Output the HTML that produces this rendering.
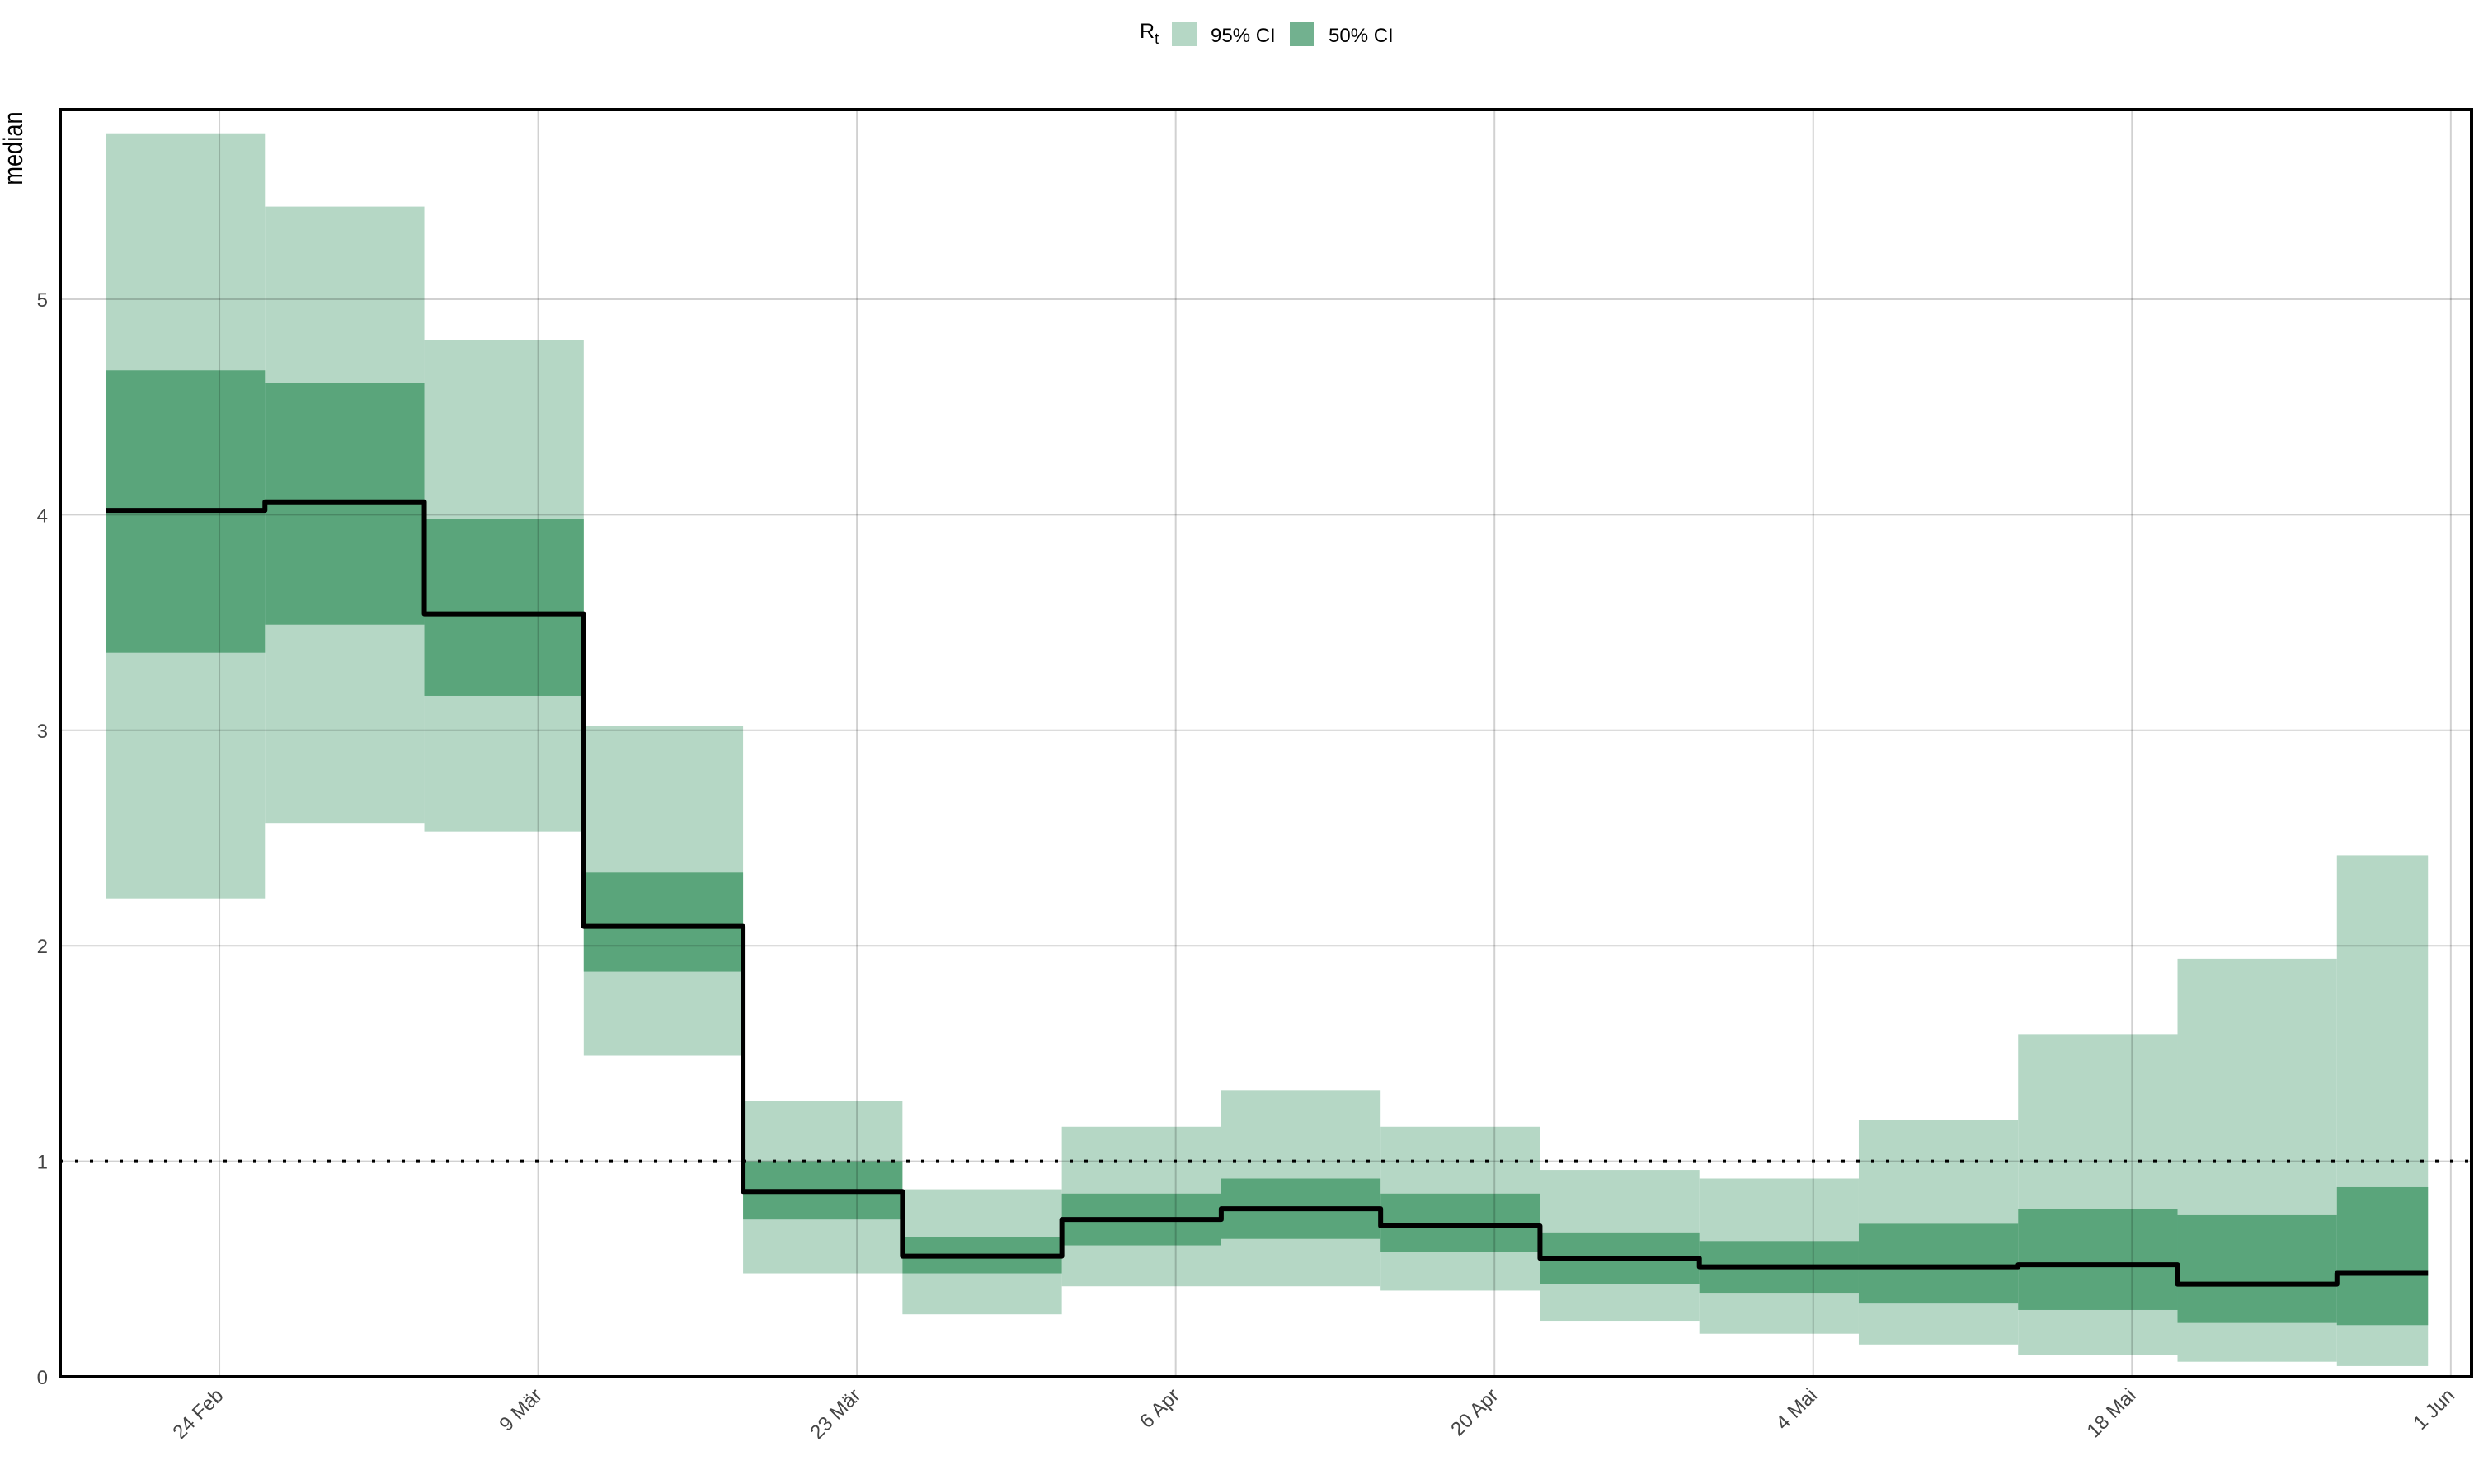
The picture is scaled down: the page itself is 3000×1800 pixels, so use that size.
<!DOCTYPE html>
<html><head><meta charset="utf-8"><style>
html,body{margin:0;padding:0;background:#fff;}
svg{display:block;font-family:"Liberation Sans",sans-serif;}
</style></head><body>
<svg id="chart" width="3000" height="1800" viewBox="0 0 3000 1800">
<g>
<text x="1382" y="46" font-size="25" fill="#000">R<tspan font-size="18" dy="7">t</tspan></text>
<rect x="1421" y="27" width="30" height="29" fill="#b5d7c5"/>
<text x="1468" y="51" font-size="24">95% CI</text>
<rect x="1564" y="27" width="29" height="29" fill="#72b18f"/>
<text x="1611" y="51" font-size="24">50% CI</text>
</g>
<text transform="translate(27,180) rotate(-90) scale(0.85,1)" font-size="32" text-anchor="middle">median</text>
<g id="bands"></g><g id="grid"></g><g id="lines"></g><g id="axes"></g>
</svg>
<script>
const segStart = [0,7,14,21,28,35,42,49,56,63,70,77,84,91,98];
const segEnd   = [7,14,21,28,35,42,49,56,63,70,77,84,91,98,102];
const lo95 = [2.22,2.57,2.53,1.49,0.48,0.29,0.42,0.42,0.40,0.26,0.20,0.15,0.10,0.07,0.05];
const hi95 = [5.77,5.43,4.81,3.02,1.28,0.87,1.16,1.33,1.16,0.96,0.92,1.19,1.59,1.94,2.42];
const lo50 = [3.36,3.49,3.16,1.88,0.73,0.48,0.61,0.64,0.58,0.43,0.39,0.34,0.31,0.25,0.24];
const hi50 = [4.67,4.61,3.98,2.34,1.00,0.65,0.85,0.92,0.85,0.67,0.63,0.71,0.78,0.75,0.88];
const median = [4.02,4.06,3.54,2.09,0.86,0.56,0.73,0.78,0.70,0.55,0.51,0.51,0.52,0.43,0.48];
const xTickDays = [5,19,33,47,61,75,89,103];
const xTickLabels = ["24 Feb","9 Mär","23 Mär","6 Apr","20 Apr","4 Mai","18 Mai","1 Jun"];
const yTicks = [0,1,2,3,4,5];

const L=73,R=2997,T=133,B=1670;
const x0=128, pxPerDay=27.61;
const X=d=>x0+d*pxPerDay;
const Y=v=>1670-v*261.4;
const NS="http://www.w3.org/2000/svg";
function mk(tag,attrs,parent){const e=document.createElementNS(NS,tag);for(const k in attrs)e.setAttribute(k,attrs[k]);parent.appendChild(e);return e;}
const grid=document.getElementById('grid'),bands=document.getElementById('bands'),lines=document.getElementById('lines'),axes=document.getElementById('axes');
yTicks.forEach(v=>{
  const g=mk('line',{x1:L,x2:R,y1:Y(v),y2:Y(v),stroke:'rgba(0,0,0,0.18)','stroke-width':2},grid);
  
  
  const t=mk('text',{x:58,y:Y(v)+9,'font-size':24,fill:'#444','text-anchor':'end'},axes);
  t.textContent=v;
  
  
});
xTickDays.forEach((d,i)=>{
  const g=mk('line',{x1:X(d),x2:X(d),y1:T,y2:B,stroke:'rgba(0,0,0,0.18)','stroke-width':2},grid);
  
  
  const t=mk('text',{transform:`translate(${X(d)+6},${B+24}) rotate(-45)`,'font-size':24,fill:'#444','text-anchor':'end'},axes);
  t.textContent=xTickLabels[i];
  
  
});
segStart.forEach((s,i)=>{
  const a=mk('rect',{x:X(s),width:X(segEnd[i])-X(s),y:Y(hi95[i]),height:Y(lo95[i])-Y(hi95[i]),fill:'#b5d7c5'},bands);
  
  
});
segStart.forEach((s,i)=>{
  const b=mk('rect',{x:X(s),width:X(segEnd[i])-X(s),y:Y(hi50[i]),height:Y(lo50[i])-Y(hi50[i]),fill:'#5aa57b'},bands);
  
  
});
const ref=mk('line',{x1:L,x2:R,y1:Y(1),y2:Y(1),stroke:'#000','stroke-width':4,'stroke-dasharray':'4 14'},lines);


let d='';
segStart.forEach((s,i)=>{d+=(i?'L':'M')+X(s)+','+Y(median[i])+'L'+X(segEnd[i])+','+Y(median[i]);});
const m=mk('path',{d:d,fill:'none',stroke:'#000','stroke-width':6,'stroke-linejoin':'round'},lines);


const fr=mk('rect',{x:L,y:T,width:R-L,height:B-T,fill:'none',stroke:'#000','stroke-width':4},axes);


</script>
</body></html>
